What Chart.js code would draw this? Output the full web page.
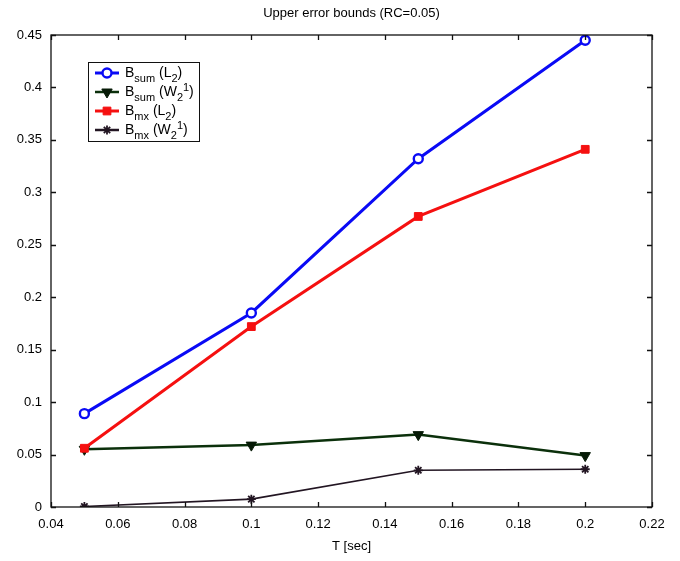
<!DOCTYPE html>
<html>
<head>
<meta charset="utf-8">
<script src="https://cdn.jsdelivr.net/npm/chart.js@4/dist/chart.umd.min.js"></script>
<style>
  html, body { margin: 0; padding: 0; background: #fff; }
  #wrap { width: 680px; height: 561px; }
</style>
</head>
<body>
<div id="wrap"><canvas id="myChart" width="680" height="561"></canvas></div>
<script>
const periods = [0.05, 0.1, 0.15, 0.2];
const bSumL2 = [0.089, 0.185, 0.332, 0.445];
const bSumW21 = [0.055, 0.059, 0.069, 0.049];
const bMxL2 = [0.056, 0.172, 0.277, 0.341];
const bMxW21 = [0.0005, 0.0075, 0.035, 0.036];

// legend labels as [text, "sub" | "sup" | ""] pieces
const labelSumL2 = [["B", ""], ["sum", "sub"], [" (L", ""], ["2", "sub"], [")", ""]];
const labelSumW21 = [["B", ""], ["sum", "sub"], [" (W", ""], ["2", "sub"], ["1", "sup"], [")", ""]];
const labelMxL2 = [["B", ""], ["mx", "sub"], [" (L", ""], ["2", "sub"], [")", ""]];
const labelMxW21 = [["B", ""], ["mx", "sub"], [" (W", ""], ["2", "sub"], ["1", "sup"], [")", ""]];

const chartTitle = "Upper error bounds (RC=0.05)";
const xTitle = "T [sec]";
const FONT = "'Liberation Sans', Arial, Helvetica, sans-serif";

const toPoints = (ys) => periods.map((x, i) => ({ x, y: ys[i] }));

// box round the plot with inward ticks on all four sides, plus title
const boxPlugin = {
  id: "box",
  afterDraw(chart) {
    const { ctx, chartArea: a, scales } = chart;
    ctx.save();
    ctx.strokeStyle = "#111";
    ctx.lineWidth = 1.3;
    ctx.strokeRect(a.left, a.top, a.right - a.left, a.bottom - a.top);
    const len = 5;
    ctx.beginPath();
    scales.x.ticks.forEach((t) => {
      const px = Math.round(scales.x.getPixelForValue(t.value)) + 0.5;
      ctx.moveTo(px, a.bottom); ctx.lineTo(px, a.bottom - len);
      ctx.moveTo(px, a.top); ctx.lineTo(px, a.top + len);
    });
    scales.y.ticks.forEach((t) => {
      const py = Math.round(scales.y.getPixelForValue(t.value)) + 0.5;
      ctx.moveTo(a.left, py); ctx.lineTo(a.left + len, py);
      ctx.moveTo(a.right, py); ctx.lineTo(a.right - len, py);
    });
    ctx.stroke();

    ctx.fillStyle = "#000";
    ctx.font = "13px " + FONT;
    ctx.textAlign = "center";
    ctx.textBaseline = "middle";
    ctx.fillText(chartTitle, (a.left + a.right) / 2, 13);
    ctx.restore();
  }
};

// legend with subscripts and superscripts
const legendPlugin = {
  id: "subLegend",
  afterDraw(chart) {
    const { ctx } = chart;
    const left = 88, top = 62, w = 111, h = 79;
    ctx.save();
    ctx.fillStyle = "#fff";
    ctx.fillRect(left, top, w, h);
    ctx.strokeStyle = "#111";
    ctx.lineWidth = 1;
    ctx.strokeRect(left + 0.5, top + 0.5, w, h);

    chart.data.datasets.forEach((ds, i) => {
      const y = top + 11 + i * 19;
      ctx.strokeStyle = ds.borderColor;
      ctx.lineWidth = Math.max(ds.borderWidth, 2.5);
      ctx.beginPath();
      ctx.moveTo(left + 7, y);
      ctx.lineTo(left + 31, y);
      ctx.stroke();
      ctx.fillStyle = ds.pointBackgroundColor;
      ctx.strokeStyle = ds.pointBorderColor;
      ctx.lineWidth = ds.pointBorderWidth;
      Chart.helpers.drawPoint(ctx, {
        pointStyle: ds.pointStyle,
        rotation: ds.pointRotation || 0,
        radius: ds.pointRadius,
        borderWidth: ds.pointBorderWidth
      }, left + 19, y);

      let x = left + 37;
      ctx.fillStyle = "#000";
      ctx.textBaseline = "alphabetic";
      ctx.textAlign = "left";
      ds.legendParts.forEach(([txt, kind]) => {
        if (kind === "sub") {
          ctx.font = "11px " + FONT;
          ctx.fillText(txt, x, y + 9);
        } else if (kind === "sup") {
          ctx.font = "11px " + FONT;
          ctx.fillText(txt, x, y - 1);
        } else {
          ctx.font = "14px " + FONT;
          ctx.fillText(txt, x, y + 4);
        }
        x += ctx.measureText(txt).width;
      });
    });
    ctx.restore();
  }
};

new Chart(document.getElementById("myChart").getContext("2d"), {
  type: "line",
  data: {
    datasets: [
      {
        label: "B_sum (L_2)",
        legendParts: labelSumL2,
        data: toPoints(bSumL2),
        borderColor: "#0a0af5",
        borderWidth: 3,
        pointStyle: "circle",
        pointRadius: 4.5,
        pointBorderWidth: 2.4,
        pointBackgroundColor: "#fff",
        pointBorderColor: "#0a0af5",
        order: 0
      },
      {
        label: "B_sum (W_2^1)",
        legendParts: labelSumW21,
        data: toPoints(bSumW21),
        borderColor: "#0b300b",
        borderWidth: 2.5,
        pointStyle: "triangle",
        pointRotation: 180,
        pointRadius: 6,
        pointBorderWidth: 1,
        pointBackgroundColor: "#061a06",
        pointBorderColor: "#061a06",
        order: 2
      },
      {
        label: "B_mx (L_2)",
        legendParts: labelMxL2,
        data: toPoints(bMxL2),
        borderColor: "#f51010",
        borderWidth: 3,
        pointStyle: "rect",
        pointRadius: 5.5,
        pointBorderWidth: 1,
        pointBackgroundColor: "#f51010",
        pointBorderColor: "#f51010",
        order: 1
      },
      {
        label: "B_mx (W_2^1)",
        legendParts: labelMxW21,
        data: toPoints(bMxW21),
        borderColor: "#221522",
        borderWidth: 1.6,
        pointStyle: "star",
        pointRadius: 4.5,
        pointBorderWidth: 1.8,
        pointBackgroundColor: "#221522",
        pointBorderColor: "#221522",
        order: 3
      }
    ]
  },
  options: {
    responsive: false,
    animation: false,
    layout: { padding: { top: 35, right: 28, left: 0, bottom: 0 } },
    plugins: {
      legend: { display: false },
      title: { display: false },
      tooltip: { enabled: false }
    },
    scales: {
      x: {
        type: "linear",
        min: 0.04,
        max: 0.22,
        grid: { display: false, drawTicks: false },
        border: { display: false },
        ticks: {
          stepSize: 0.02,
          color: "#000",
          padding: 10,
          maxRotation: 0,
          font: { family: FONT, size: 13 },
          callback: (v) => String(+v.toFixed(2))
        },
        title: {
          display: true,
          text: xTitle,
          color: "#000",
          font: { family: FONT, size: 13 },
          padding: { top: 4, bottom: 7 }
        },
        afterFit: (scale) => { scale.height = 54; }
      },
      y: {
        min: 0,
        max: 0.45,
        grid: { display: false, drawTicks: false },
        border: { display: false },
        ticks: {
          stepSize: 0.05,
          color: "#000",
          padding: 9,
          font: { family: FONT, size: 13 },
          callback: (v) => String(+v.toFixed(2))
        },
        afterFit: (scale) => { scale.width = 51; }
      }
    }
  },
  plugins: [boxPlugin, legendPlugin]
});
</script>
</body>
</html>
